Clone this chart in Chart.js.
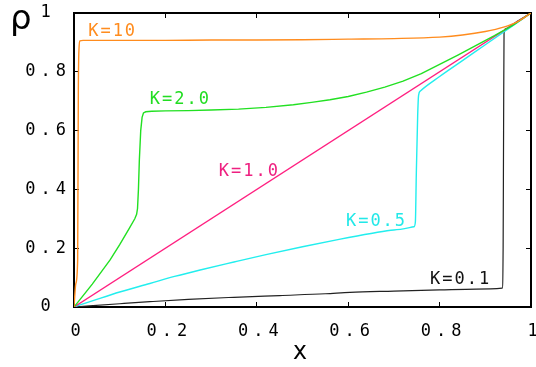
<!DOCTYPE html>
<html>
<head>
<meta charset="utf-8">
<script src="https://cdn.jsdelivr.net/npm/chart.js@4.4.1/dist/chart.umd.min.js"></script>
<style>
  html, body { margin: 0; padding: 0; background: #fff; }
</style>
</head>
<body>
<canvas id="rhoChart" width="536" height="367"></canvas>
<script>
// tick values
const xTicks = [0, 0.2, 0.4, 0.6, 0.8, 1];
const yTicks = [0, 0.2, 0.4, 0.6, 0.8, 1];

// curve names (K values)
const seriesNames = ['K=10', 'K=2.0', 'K=1.0', 'K=0.5', 'K=0.1'];

// rho(x), one pair of arrays per K
const k10X = [0, 0.004, 0.008, 0.0095, 0.011, 0.013, 0.02, 0.1, 0.2, 0.3, 0.4, 0.5, 0.6, 0.7, 0.8, 0.85, 0.9, 0.94, 0.97, 1];
const k10Y = [0, 0.08, 0.16, 0.74, 0.88, 0.905, 0.907, 0.907, 0.907, 0.908, 0.908, 0.909, 0.911, 0.913, 0.918, 0.925, 0.937, 0.952, 0.97, 1];

const k2X = [0, 0.04, 0.079, 0.1, 0.12, 0.133, 0.137, 0.139, 0.141, 0.143, 0.146, 0.149, 0.152, 0.157, 0.17, 0.2, 0.25, 0.3, 0.36, 0.42, 0.48, 0.52, 0.56, 0.6, 0.64, 0.68, 0.72, 0.76, 0.8, 0.84, 0.88, 0.92, 0.96, 1];
const k2Y = [0, 0.078, 0.16, 0.212, 0.265, 0.3, 0.315, 0.335, 0.4, 0.5, 0.6, 0.645, 0.66, 0.664, 0.666, 0.667, 0.668, 0.67, 0.673, 0.679, 0.688, 0.696, 0.705, 0.716, 0.731, 0.748, 0.768, 0.794, 0.825, 0.857, 0.89, 0.923, 0.958, 1];

const k1X = [0, 1];
const k1Y = [0, 1];

const k05X = [0, 0.05, 0.1, 0.166, 0.22, 0.276, 0.35, 0.42, 0.5, 0.58, 0.65, 0.7, 0.744, 0.747, 0.749, 0.752, 0.754, 0.758, 0.8, 0.85, 0.9, 0.95, 1];
const k05Y = [0, 0.026, 0.051, 0.08, 0.104, 0.126, 0.153, 0.178, 0.205, 0.23, 0.25, 0.262, 0.273, 0.29, 0.45, 0.65, 0.72, 0.735, 0.784, 0.838, 0.892, 0.946, 1];

const k01X = [0, 0.1, 0.166, 0.25, 0.35, 0.45, 0.55, 0.604, 0.7, 0.8, 0.88, 0.937, 0.939, 0.94, 0.941, 0.944, 0.97, 1];
const k01Y = [0, 0.011, 0.018, 0.026, 0.033, 0.039, 0.045, 0.05, 0.054, 0.058, 0.061, 0.064, 0.2, 0.6, 0.93, 0.946, 0.972, 1];

// where each curve's name sits (data units, left edge / middle)
const labelX = [0.031, 0.166, 0.317, 0.595, 0.779];
const labelY = [0.936, 0.705, 0.461, 0.291, 0.093];

const lineColors = ['#ff8c1e', '#22e022', '#ff2080', '#22eeee', '#222222'];
const textColors = ['#ff8c1e', '#22dd22', '#ee2080', '#22e8e8', '#111111'];

const MONO = '"DejaVu Sans Mono", "Liberation Mono", monospace';

const toPoints = (xs, ys) => xs.map((v, i) => ({ x: v, y: ys[i] }));
const fmt = v => String(+Number(v).toFixed(1));

// gnuplot-ish wide spacing for tick text
const spacingPlugin = {
  id: 'spacing',
  beforeUpdate(chart) { chart.ctx.letterSpacing = '5px'; },
  beforeDraw(chart) { chart.ctx.letterSpacing = '5px'; },
};

// K=... names next to the curves
const curveLabelPlugin = {
  id: 'curveLabels',
  afterDatasetsDraw(chart) {
    const { ctx, scales: { x, y } } = chart;
    ctx.save();
    ctx.letterSpacing = '2px';
    ctx.font = '17px ' + MONO;
    ctx.textAlign = 'left';
    ctx.textBaseline = 'middle';
    seriesNames.forEach((name, i) => {
      ctx.fillStyle = textColors[i];
      ctx.fillText(name, x.getPixelForValue(labelX[i]), y.getPixelForValue(labelY[i]));
    });
    ctx.restore();
  },
};

// rho axis title sits upright at the top left
const rhoTitlePlugin = {
  id: 'rhoTitle',
  afterDraw(chart) {
    const ctx = chart.ctx;
    ctx.save();
    ctx.letterSpacing = '0px';
    ctx.font = '34px "DejaVu Sans", sans-serif';
    ctx.fillStyle = '#000';
    ctx.textAlign = 'left';
    ctx.textBaseline = 'alphabetic';
    ctx.fillText('ρ', 10, 29);
    ctx.restore();
  },
};

const tickFont = { family: MONO, size: 17 };

// no extra room for labels that stick out past the frame
const noOverhang = s => {
  s.paddingLeft = 0;
  s.paddingRight = 0;
  s.paddingTop = 0;
  s.paddingBottom = 0;
};

const mirrorAxis = (position, ticks) => ({
  type: 'linear',
  position: position,
  min: 0,
  max: 1,
  afterBuildTicks: s => { s.ticks = ticks.map(v => ({ value: v })); },
  ticks: { display: false },
  grid: { drawOnChartArea: false, tickLength: -5, color: '#000', tickWidth: 1 },
  border: { display: true, color: '#000', width: 2 },
  afterFit: s => {
    if (position === 'top') s.height = 0;
    else s.width = 0;
    noOverhang(s);
  },
});

new Chart(document.getElementById('rhoChart'), {
  type: 'line',
  data: {
    datasets: [
      { label: seriesNames[0], data: toPoints(k10X, k10Y), borderColor: lineColors[0] },
      // kinked curve: straight segments between dense points
      { label: seriesNames[1], data: toPoints(k2X, k2Y), borderColor: lineColors[1], cubicInterpolationMode: 'default', tension: 0 },
      { label: seriesNames[2], data: toPoints(k1X, k1Y), borderColor: lineColors[2] },
      { label: seriesNames[3], data: toPoints(k05X, k05Y), borderColor: lineColors[3] },
      { label: seriesNames[4], data: toPoints(k01X, k01Y), borderColor: lineColors[4], borderWidth: 1.2 },
    ],
  },
  options: {
    responsive: false,
    animation: false,
    devicePixelRatio: 1,
    layout: { autoPadding: false, padding: { top: 13, right: 5, left: 0, bottom: 0 } },
    elements: {
      point: { radius: 0 },
      line: { borderWidth: 1.4, cubicInterpolationMode: 'monotone', fill: false },
    },
    plugins: {
      legend: { display: false },
      tooltip: { enabled: false },
    },
    scales: {
      x: {
        type: 'linear',
        position: 'bottom',
        min: 0,
        max: 1,
        afterBuildTicks: s => { s.ticks = xTicks.map(v => ({ value: v })); },
        ticks: { font: tickFont, color: '#000', padding: 19, labelOffset: 4, maxRotation: 0, autoSkip: false, callback: fmt },
        grid: { drawOnChartArea: false, tickLength: -5, color: '#000', tickWidth: 1 },
        border: { display: true, color: '#000', width: 2 },
        title: {
          display: true,
          text: 'x',
          color: '#000',
          font: { family: MONO, size: 24 },
          padding: { top: 0, bottom: 0 },
        },
        afterFit: s => { s.height = 60; noOverhang(s); },
      },
      y: {
        type: 'linear',
        position: 'left',
        min: 0,
        max: 1,
        afterBuildTicks: s => { s.ticks = yTicks.map(v => ({ value: v })); },
        ticks: { font: tickFont, color: '#000', padding: 8, crossAlign: 'center', autoSkip: false, callback: fmt },
        grid: { drawOnChartArea: false, tickLength: -5, color: '#000', tickWidth: 1 },
        border: { display: true, color: '#000', width: 2 },
        afterFit: s => { s.width = 74; noOverhang(s); },
      },
      x2: mirrorAxis('top', xTicks),
      y2: mirrorAxis('right', yTicks),
    },
  },
  plugins: [spacingPlugin, curveLabelPlugin, rhoTitlePlugin],
});
</script>
</body>
</html>
